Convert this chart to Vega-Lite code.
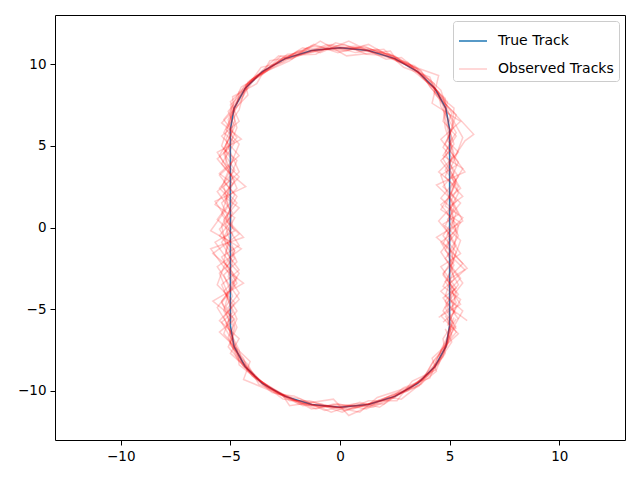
{
"$schema":"https://vega.github.io/schema/vega-lite/v6.json",
"width":570,"height":425,"autosize":"none",
"padding":{"left":55,"top":15,"right":15,"bottom":40},
"config":{"font":"DejaVu Sans","view":{"stroke":"black","strokeWidth":1},
"axis":{"grid":false,"domain":false,"tickColor":"black","labelColor":"black","labelFontSize":13.5,"tickSize":5,"labelPadding":4,"title":null}},
"data":{"values":[
{"s":"True Track","t":0,"i":0,"x":5,"y":-6},{"s":"True Track","t":0,"i":1,"x":5,"y":6},{"s":"True Track","t":0,"i":2,"x":4.83,"y":7.29},{"s":"True Track","t":0,"i":3,"x":4.33,"y":8.5},{"s":"True Track","t":0,"i":4,"x":3.54,"y":9.54},{"s":"True Track","t":0,"i":5,"x":2.5,"y":10.33},{"s":"True Track","t":0,"i":6,"x":1.29,"y":10.83},{"s":"True Track","t":0,"i":7,"x":0,"y":11},{"s":"True Track","t":0,"i":8,"x":-1.29,"y":10.83},{"s":"True Track","t":0,"i":9,"x":-2.5,"y":10.33},{"s":"True Track","t":0,"i":10,"x":-3.54,"y":9.54},{"s":"True Track","t":0,"i":11,"x":-4.33,"y":8.5},{"s":"True Track","t":0,"i":12,"x":-4.83,"y":7.29},{"s":"True Track","t":0,"i":13,"x":-5,"y":6},{"s":"True Track","t":0,"i":14,"x":-5,"y":-6},{"s":"True Track","t":0,"i":15,"x":-4.83,"y":-7.29},{"s":"True Track","t":0,"i":16,"x":-4.33,"y":-8.5},{"s":"True Track","t":0,"i":17,"x":-3.54,"y":-9.54},{"s":"True Track","t":0,"i":18,"x":-2.5,"y":-10.33},{"s":"True Track","t":0,"i":19,"x":-1.29,"y":-10.83},{"s":"True Track","t":0,"i":20,"x":0,"y":-11},{"s":"True Track","t":0,"i":21,"x":1.29,"y":-10.83},{"s":"True Track","t":0,"i":22,"x":2.5,"y":-10.33},{"s":"True Track","t":0,"i":23,"x":3.54,"y":-9.54},{"s":"True Track","t":0,"i":24,"x":4.33,"y":-8.5},{"s":"True Track","t":0,"i":25,"x":4.83,"y":-7.29},{"s":"True Track","t":0,"i":26,"x":5,"y":-6},
{"s":"Observed Tracks","t":1,"i":0,"x":5.3,"y":-6.2},{"s":"Observed Tracks","t":1,"i":1,"x":4.8,"y":-4.9},{"s":"Observed Tracks","t":1,"i":2,"x":5.4,"y":-4.1},{"s":"Observed Tracks","t":1,"i":3,"x":4.7,"y":-2.8},{"s":"Observed Tracks","t":1,"i":4,"x":5.2,"y":-2.1},{"s":"Observed Tracks","t":1,"i":5,"x":4.9,"y":-0.8},{"s":"Observed Tracks","t":1,"i":6,"x":5.5,"y":0.3},{"s":"Observed Tracks","t":1,"i":7,"x":4.6,"y":1.1},{"s":"Observed Tracks","t":1,"i":8,"x":5.1,"y":2.2},{"s":"Observed Tracks","t":1,"i":9,"x":5.3,"y":2.9},{"s":"Observed Tracks","t":1,"i":10,"x":4.7,"y":4.2},{"s":"Observed Tracks","t":1,"i":11,"x":5.2,"y":5.1},{"s":"Observed Tracks","t":1,"i":12,"x":4.9,"y":6.3},{"s":"Observed Tracks","t":1,"i":13,"x":5.1,"y":7.0},{"s":"Observed Tracks","t":1,"i":14,"x":4.2,"y":8.8},{"s":"Observed Tracks","t":1,"i":15,"x":3.8,"y":9.3},{"s":"Observed Tracks","t":1,"i":16,"x":2.3,"y":10.6},{"s":"Observed Tracks","t":1,"i":17,"x":1.5,"y":10.7},{"s":"Observed Tracks","t":1,"i":18,"x":-0.2,"y":11.3},{"s":"Observed Tracks","t":1,"i":19,"x":-1.1,"y":10.6},{"s":"Observed Tracks","t":1,"i":20,"x":-2.7,"y":10.5},{"s":"Observed Tracks","t":1,"i":21,"x":-3.3,"y":9.7},{"s":"Observed Tracks","t":1,"i":22,"x":-4.6,"y":8.3},{"s":"Observed Tracks","t":1,"i":23,"x":-4.7,"y":7.5},{"s":"Observed Tracks","t":1,"i":24,"x":-5.3,"y":5.8},{"s":"Observed Tracks","t":1,"i":25,"x":-4.8,"y":5.2},{"s":"Observed Tracks","t":1,"i":26,"x":-5.4,"y":3.9},{"s":"Observed Tracks","t":1,"i":27,"x":-4.9,"y":3.1},{"s":"Observed Tracks","t":1,"i":28,"x":-5.2,"y":1.8},{"s":"Observed Tracks","t":1,"i":29,"x":-4.6,"y":1.2},{"s":"Observed Tracks","t":1,"i":30,"x":-5.5,"y":-0.1},{"s":"Observed Tracks","t":1,"i":31,"x":-5.0,"y":-1.2},{"s":"Observed Tracks","t":1,"i":32,"x":-4.7,"y":-2.1},{"s":"Observed Tracks","t":1,"i":33,"x":-5.3,"y":-2.9},{"s":"Observed Tracks","t":1,"i":34,"x":-4.9,"y":-4.2},{"s":"Observed Tracks","t":1,"i":35,"x":-5.2,"y":-4.8},{"s":"Observed Tracks","t":1,"i":36,"x":-4.8,"y":-6.1},{"s":"Observed Tracks","t":1,"i":37,"x":-5.0,"y":-7.1},{"s":"Observed Tracks","t":1,"i":38,"x":-4.1,"y":-8.7},{"s":"Observed Tracks","t":1,"i":39,"x":-3.7,"y":-9.3},{"s":"Observed Tracks","t":1,"i":40,"x":-2.3,"y":-10.6},{"s":"Observed Tracks","t":1,"i":41,"x":-1.4,"y":-10.6},{"s":"Observed Tracks","t":1,"i":42,"x":0.2,"y":-11.2},{"s":"Observed Tracks","t":1,"i":43,"x":1.1,"y":-10.9},{"s":"Observed Tracks","t":1,"i":44,"x":2.7,"y":-10.1},{"s":"Observed Tracks","t":1,"i":45,"x":3.4,"y":-9.8},{"s":"Observed Tracks","t":1,"i":46,"x":4.5,"y":-8.3},{"s":"Observed Tracks","t":1,"i":47,"x":4.6,"y":-7.5},{"s":"Observed Tracks","t":1,"i":48,"x":5.2,"y":-5.9},
{"s":"Observed Tracks","t":2,"i":0,"x":4.7,"y":-5.8},{"s":"Observed Tracks","t":2,"i":1,"x":5.2,"y":-5.2},{"s":"Observed Tracks","t":2,"i":2,"x":5.0,"y":-3.8},{"s":"Observed Tracks","t":2,"i":3,"x":5.5,"y":-3.1},{"s":"Observed Tracks","t":2,"i":4,"x":4.8,"y":-1.9},{"s":"Observed Tracks","t":2,"i":5,"x":5.3,"y":-1.1},{"s":"Observed Tracks","t":2,"i":6,"x":4.7,"y":0.2},{"s":"Observed Tracks","t":2,"i":7,"x":5.4,"y":0.8},{"s":"Observed Tracks","t":2,"i":8,"x":4.9,"y":2.1},{"s":"Observed Tracks","t":2,"i":9,"x":4.6,"y":3.2},{"s":"Observed Tracks","t":2,"i":10,"x":5.3,"y":3.8},{"s":"Observed Tracks","t":2,"i":11,"x":5.0,"y":5.2},{"s":"Observed Tracks","t":2,"i":12,"x":5.3,"y":5.8},{"s":"Observed Tracks","t":2,"i":13,"x":4.6,"y":7.4},{"s":"Observed Tracks","t":2,"i":14,"x":4.5,"y":8.3},{"s":"Observed Tracks","t":2,"i":15,"x":3.3,"y":9.8},{"s":"Observed Tracks","t":2,"i":16,"x":2.7,"y":10.1},{"s":"Observed Tracks","t":2,"i":17,"x":1.1,"y":11.1},{"s":"Observed Tracks","t":2,"i":18,"x":0.3,"y":10.8},{"s":"Observed Tracks","t":2,"i":19,"x":-1.5,"y":11.0},{"s":"Observed Tracks","t":2,"i":20,"x":-2.3,"y":10.2},{"s":"Observed Tracks","t":2,"i":21,"x":-3.8,"y":9.3},{"s":"Observed Tracks","t":2,"i":22,"x":-4.1,"y":8.7},{"s":"Observed Tracks","t":2,"i":23,"x":-5.1,"y":7.1},{"s":"Observed Tracks","t":2,"i":24,"x":-4.8,"y":6.2},{"s":"Observed Tracks","t":2,"i":25,"x":-5.3,"y":4.8},{"s":"Observed Tracks","t":2,"i":26,"x":-4.7,"y":4.1},{"s":"Observed Tracks","t":2,"i":27,"x":-5.1,"y":2.8},{"s":"Observed Tracks","t":2,"i":28,"x":-5.6,"y":2.2},{"s":"Observed Tracks","t":2,"i":29,"x":-4.9,"y":0.9},{"s":"Observed Tracks","t":2,"i":30,"x":-5.2,"y":0.2},{"s":"Observed Tracks","t":2,"i":31,"x":-4.6,"y":-1.1},{"s":"Observed Tracks","t":2,"i":32,"x":-5.4,"y":-1.8},{"s":"Observed Tracks","t":2,"i":33,"x":-4.8,"y":-3.2},{"s":"Observed Tracks","t":2,"i":34,"x":-5.3,"y":-3.9},{"s":"Observed Tracks","t":2,"i":35,"x":-4.7,"y":-5.1},{"s":"Observed Tracks","t":2,"i":36,"x":-5.2,"y":-5.9},{"s":"Observed Tracks","t":2,"i":37,"x":-4.6,"y":-7.5},{"s":"Observed Tracks","t":2,"i":38,"x":-4.5,"y":-8.2},{"s":"Observed Tracks","t":2,"i":39,"x":-3.3,"y":-9.8},{"s":"Observed Tracks","t":2,"i":40,"x":-2.7,"y":-10.2},{"s":"Observed Tracks","t":2,"i":41,"x":-1.1,"y":-11.1},{"s":"Observed Tracks","t":2,"i":42,"x":-0.3,"y":-10.8},{"s":"Observed Tracks","t":2,"i":43,"x":1.5,"y":-11.0},{"s":"Observed Tracks","t":2,"i":44,"x":2.3,"y":-10.5},{"s":"Observed Tracks","t":2,"i":45,"x":3.8,"y":-9.2},{"s":"Observed Tracks","t":2,"i":46,"x":4.2,"y":-8.8},{"s":"Observed Tracks","t":2,"i":47,"x":5.1,"y":-7.0},{"s":"Observed Tracks","t":2,"i":48,"x":4.8,"y":-6.2},
{"s":"Observed Tracks","t":3,"i":0,"x":5.1,"y":-6.3},{"s":"Observed Tracks","t":3,"i":1,"x":5.6,"y":-5.1},{"s":"Observed Tracks","t":3,"i":2,"x":4.6,"y":-3.9},{"s":"Observed Tracks","t":3,"i":3,"x":5.2,"y":-3.2},{"s":"Observed Tracks","t":3,"i":4,"x":5.0,"y":-1.8},{"s":"Observed Tracks","t":3,"i":5,"x":4.6,"y":-0.9},{"s":"Observed Tracks","t":3,"i":6,"x":5.3,"y":-0.2},{"s":"Observed Tracks","t":3,"i":7,"x":5.0,"y":1.3},{"s":"Observed Tracks","t":3,"i":8,"x":5.6,"y":1.9},{"s":"Observed Tracks","t":3,"i":9,"x":4.8,"y":3.1},{"s":"Observed Tracks","t":3,"i":10,"x":5.1,"y":4.3},{"s":"Observed Tracks","t":3,"i":11,"x":4.7,"y":4.9},{"s":"Observed Tracks","t":3,"i":12,"x":5.2,"y":6.2},{"s":"Observed Tracks","t":3,"i":13,"x":4.9,"y":7.2},{"s":"Observed Tracks","t":3,"i":14,"x":4.6,"y":8.4},{"s":"Observed Tracks","t":3,"i":15,"x":3.4,"y":9.9},{"s":"Observed Tracks","t":3,"i":16,"x":2.6,"y":10.2},{"s":"Observed Tracks","t":3,"i":17,"x":1.3,"y":11.2},{"s":"Observed Tracks","t":3,"i":18,"x":-0.1,"y":10.7},{"s":"Observed Tracks","t":3,"i":19,"x":-1.2,"y":11.2},{"s":"Observed Tracks","t":3,"i":20,"x":-2.6,"y":10.1},{"s":"Observed Tracks","t":3,"i":21,"x":-3.6,"y":9.8},{"s":"Observed Tracks","t":3,"i":22,"x":-4.4,"y":8.3},{"s":"Observed Tracks","t":3,"i":23,"x":-5.0,"y":7.5},{"s":"Observed Tracks","t":3,"i":24,"x":-4.7,"y":6.1},{"s":"Observed Tracks","t":3,"i":25,"x":-5.1,"y":4.8},{"s":"Observed Tracks","t":3,"i":26,"x":-5.6,"y":4.2},{"s":"Observed Tracks","t":3,"i":27,"x":-4.8,"y":2.9},{"s":"Observed Tracks","t":3,"i":28,"x":-5.1,"y":2.1},{"s":"Observed Tracks","t":3,"i":29,"x":-5.4,"y":0.8},{"s":"Observed Tracks","t":3,"i":30,"x":-4.8,"y":-0.2},{"s":"Observed Tracks","t":3,"i":31,"x":-5.7,"y":-0.9},{"s":"Observed Tracks","t":3,"i":32,"x":-5.0,"y":-2.2},{"s":"Observed Tracks","t":3,"i":33,"x":-4.6,"y":-2.8},{"s":"Observed Tracks","t":3,"i":34,"x":-5.2,"y":-4.1},{"s":"Observed Tracks","t":3,"i":35,"x":-4.9,"y":-5.2},{"s":"Observed Tracks","t":3,"i":36,"x":-5.4,"y":-5.8},{"s":"Observed Tracks","t":3,"i":37,"x":-4.7,"y":-7.4},{"s":"Observed Tracks","t":3,"i":38,"x":-4.6,"y":-8.4},{"s":"Observed Tracks","t":3,"i":39,"x":-3.4,"y":-9.7},{"s":"Observed Tracks","t":3,"i":40,"x":-2.6,"y":-10.5},{"s":"Observed Tracks","t":3,"i":41,"x":-1.2,"y":-10.7},{"s":"Observed Tracks","t":3,"i":42,"x":0.1,"y":-11.3},{"s":"Observed Tracks","t":3,"i":43,"x":1.3,"y":-10.6},{"s":"Observed Tracks","t":3,"i":44,"x":2.6,"y":-10.6},{"s":"Observed Tracks","t":3,"i":45,"x":3.3,"y":-9.4},{"s":"Observed Tracks","t":3,"i":46,"x":4.4,"y":-8.7},{"s":"Observed Tracks","t":3,"i":47,"x":4.9,"y":-7.1},{"s":"Observed Tracks","t":3,"i":48,"x":5.0,"y":-6.1},
{"s":"Observed Tracks","t":4,"i":0,"x":4.9,"y":-6.0},{"s":"Observed Tracks","t":4,"i":1,"x":5.3,"y":-4.8},{"s":"Observed Tracks","t":4,"i":2,"x":4.8,"y":-4.2},{"s":"Observed Tracks","t":4,"i":3,"x":5.1,"y":-2.9},{"s":"Observed Tracks","t":4,"i":4,"x":5.6,"y":-2.2},{"s":"Observed Tracks","t":4,"i":5,"x":4.7,"y":-1.0},{"s":"Observed Tracks","t":4,"i":6,"x":5.1,"y":0.1},{"s":"Observed Tracks","t":4,"i":7,"x":5.3,"y":0.9},{"s":"Observed Tracks","t":4,"i":8,"x":4.6,"y":1.8},{"s":"Observed Tracks","t":4,"i":9,"x":5.4,"y":3.1},{"s":"Observed Tracks","t":4,"i":10,"x":5.0,"y":3.9},{"s":"Observed Tracks","t":4,"i":11,"x":5.7,"y":5.3},{"s":"Observed Tracks","t":4,"i":12,"x":6.1,"y":5.7},{"s":"Observed Tracks","t":4,"i":13,"x":5.0,"y":7.3},{"s":"Observed Tracks","t":4,"i":14,"x":4.1,"y":8.6},{"s":"Observed Tracks","t":4,"i":15,"x":3.7,"y":9.6},{"s":"Observed Tracks","t":4,"i":16,"x":2.4,"y":10.5},{"s":"Observed Tracks","t":4,"i":17,"x":1.2,"y":10.6},{"s":"Observed Tracks","t":4,"i":18,"x":0.2,"y":11.2},{"s":"Observed Tracks","t":4,"i":19,"x":-1.4,"y":10.7},{"s":"Observed Tracks","t":4,"i":20,"x":-2.4,"y":10.6},{"s":"Observed Tracks","t":4,"i":21,"x":-3.5,"y":9.4},{"s":"Observed Tracks","t":4,"i":22,"x":-4.3,"y":8.7},{"s":"Observed Tracks","t":4,"i":23,"x":-4.6,"y":7.2},{"s":"Observed Tracks","t":4,"i":24,"x":-5.2,"y":6.0},{"s":"Observed Tracks","t":4,"i":25,"x":-4.6,"y":5.1},{"s":"Observed Tracks","t":4,"i":26,"x":-5.0,"y":3.8},{"s":"Observed Tracks","t":4,"i":27,"x":-5.5,"y":3.2},{"s":"Observed Tracks","t":4,"i":28,"x":-4.8,"y":2.0},{"s":"Observed Tracks","t":4,"i":29,"x":-5.2,"y":1.1},{"s":"Observed Tracks","t":4,"i":30,"x":-5.9,"y":-0.2},{"s":"Observed Tracks","t":4,"i":31,"x":-5.1,"y":-0.8},{"s":"Observed Tracks","t":4,"i":32,"x":-5.3,"y":-2.1},{"s":"Observed Tracks","t":4,"i":33,"x":-4.7,"y":-3.1},{"s":"Observed Tracks","t":4,"i":34,"x":-5.0,"y":-3.8},{"s":"Observed Tracks","t":4,"i":35,"x":-5.6,"y":-4.9},{"s":"Observed Tracks","t":4,"i":36,"x":-5.0,"y":-6.2},{"s":"Observed Tracks","t":4,"i":37,"x":-5.0,"y":-7.2},{"s":"Observed Tracks","t":4,"i":38,"x":-4.2,"y":-8.4},{"s":"Observed Tracks","t":4,"i":39,"x":-3.7,"y":-9.6},{"s":"Observed Tracks","t":4,"i":40,"x":-2.4,"y":-10.3},{"s":"Observed Tracks","t":4,"i":41,"x":-1.3,"y":-11.1},{"s":"Observed Tracks","t":4,"i":42,"x":-0.1,"y":-10.8},{"s":"Observed Tracks","t":4,"i":43,"x":1.2,"y":-11.1},{"s":"Observed Tracks","t":4,"i":44,"x":2.5,"y":-10.3},{"s":"Observed Tracks","t":4,"i":45,"x":3.6,"y":-9.7},{"s":"Observed Tracks","t":4,"i":46,"x":4.2,"y":-8.3},{"s":"Observed Tracks","t":4,"i":47,"x":4.8,"y":-7.4},{"s":"Observed Tracks","t":4,"i":48,"x":5.2,"y":-6.1},
{"s":"Observed Tracks","t":5,"i":0,"x":5.2,"y":-5.9},{"s":"Observed Tracks","t":5,"i":1,"x":4.7,"y":-5.1},{"s":"Observed Tracks","t":5,"i":2,"x":5.2,"y":-3.8},{"s":"Observed Tracks","t":5,"i":3,"x":4.9,"y":-3.2},{"s":"Observed Tracks","t":5,"i":4,"x":5.2,"y":-1.9},{"s":"Observed Tracks","t":5,"i":5,"x":5.5,"y":-0.8},{"s":"Observed Tracks","t":5,"i":6,"x":4.8,"y":0.1},{"s":"Observed Tracks","t":5,"i":7,"x":5.2,"y":1.2},{"s":"Observed Tracks","t":5,"i":8,"x":5.0,"y":1.8},{"s":"Observed Tracks","t":5,"i":9,"x":5.3,"y":2.8},{"s":"Observed Tracks","t":5,"i":10,"x":4.6,"y":4.1},{"s":"Observed Tracks","t":5,"i":11,"x":5.1,"y":4.8},{"s":"Observed Tracks","t":5,"i":12,"x":4.8,"y":6.1},{"s":"Observed Tracks","t":5,"i":13,"x":4.7,"y":7.5},{"s":"Observed Tracks","t":5,"i":14,"x":4.4,"y":8.4},{"s":"Observed Tracks","t":5,"i":15,"x":3.6,"y":9.3},{"s":"Observed Tracks","t":5,"i":16,"x":2.5,"y":10.5},{"s":"Observed Tracks","t":5,"i":17,"x":1.4,"y":10.9},{"s":"Observed Tracks","t":5,"i":18,"x":0.0,"y":10.9},{"s":"Observed Tracks","t":5,"i":19,"x":-1.3,"y":11.1},{"s":"Observed Tracks","t":5,"i":20,"x":-2.5,"y":10.4},{"s":"Observed Tracks","t":5,"i":21,"x":-3.5,"y":9.6},{"s":"Observed Tracks","t":5,"i":22,"x":-4.4,"y":8.6},{"s":"Observed Tracks","t":5,"i":23,"x":-4.9,"y":7.1},{"s":"Observed Tracks","t":5,"i":24,"x":-5.1,"y":6.2},{"s":"Observed Tracks","t":5,"i":25,"x":-5.4,"y":5.0},{"s":"Observed Tracks","t":5,"i":26,"x":-4.9,"y":4.1},{"s":"Observed Tracks","t":5,"i":27,"x":-5.3,"y":2.8},{"s":"Observed Tracks","t":5,"i":28,"x":-4.7,"y":1.9},{"s":"Observed Tracks","t":5,"i":29,"x":-5.1,"y":0.9},{"s":"Observed Tracks","t":5,"i":30,"x":-5.4,"y":0.1},{"s":"Observed Tracks","t":5,"i":31,"x":-5.2,"y":-1.1},{"s":"Observed Tracks","t":5,"i":32,"x":-4.8,"y":-1.9},{"s":"Observed Tracks","t":5,"i":33,"x":-5.5,"y":-2.8},{"s":"Observed Tracks","t":5,"i":34,"x":-5.1,"y":-4.1},{"s":"Observed Tracks","t":5,"i":35,"x":-5.3,"y":-5.1},{"s":"Observed Tracks","t":5,"i":36,"x":-4.9,"y":-6.0},{"s":"Observed Tracks","t":5,"i":37,"x":-4.9,"y":-7.3},{"s":"Observed Tracks","t":5,"i":38,"x":-4.4,"y":-8.5},{"s":"Observed Tracks","t":5,"i":39,"x":-3.5,"y":-9.6},{"s":"Observed Tracks","t":5,"i":40,"x":-2.5,"y":-10.4},{"s":"Observed Tracks","t":5,"i":41,"x":-1.3,"y":-10.9},{"s":"Observed Tracks","t":5,"i":42,"x":0.0,"y":-11.0},{"s":"Observed Tracks","t":5,"i":43,"x":1.3,"y":-10.8},{"s":"Observed Tracks","t":5,"i":44,"x":2.5,"y":-10.4},{"s":"Observed Tracks","t":5,"i":45,"x":3.5,"y":-9.5},{"s":"Observed Tracks","t":5,"i":46,"x":4.3,"y":-8.6},{"s":"Observed Tracks","t":5,"i":47,"x":4.9,"y":-7.2},{"s":"Observed Tracks","t":5,"i":48,"x":5.0,"y":-5.9},
{"s":"Observed Tracks","t":6,"i":0,"x":5.8,"y":-5.7},{"s":"Observed Tracks","t":6,"i":1,"x":5.1,"y":-5.0},{"s":"Observed Tracks","t":6,"i":2,"x":5.3,"y":-4.0},{"s":"Observed Tracks","t":6,"i":3,"x":4.7,"y":-2.9},{"s":"Observed Tracks","t":6,"i":4,"x":5.1,"y":-2.0},{"s":"Observed Tracks","t":6,"i":5,"x":5.2,"y":-1.2},{"s":"Observed Tracks","t":6,"i":6,"x":5.4,"y":0.1},{"s":"Observed Tracks","t":6,"i":7,"x":4.9,"y":0.8},{"s":"Observed Tracks","t":6,"i":8,"x":5.4,"y":2.1},{"s":"Observed Tracks","t":6,"i":9,"x":5.1,"y":3.1},{"s":"Observed Tracks","t":6,"i":10,"x":5.4,"y":4.0},{"s":"Observed Tracks","t":6,"i":11,"x":4.8,"y":5.1},{"s":"Observed Tracks","t":6,"i":12,"x":5.1,"y":6.0},{"s":"Observed Tracks","t":6,"i":13,"x":5.2,"y":7.3},{"s":"Observed Tracks","t":6,"i":14,"x":4.3,"y":8.3},{"s":"Observed Tracks","t":6,"i":15,"x":3.5,"y":9.7},{"s":"Observed Tracks","t":6,"i":16,"x":2.6,"y":10.4},{"s":"Observed Tracks","t":6,"i":17,"x":1.2,"y":11.0},{"s":"Observed Tracks","t":6,"i":18,"x":-0.3,"y":11.0},{"s":"Observed Tracks","t":6,"i":19,"x":-1.3,"y":10.7},{"s":"Observed Tracks","t":6,"i":20,"x":-2.6,"y":10.4},{"s":"Observed Tracks","t":6,"i":21,"x":-3.4,"y":9.5},{"s":"Observed Tracks","t":6,"i":22,"x":-4.5,"y":8.6},{"s":"Observed Tracks","t":6,"i":23,"x":-5.0,"y":7.2},{"s":"Observed Tracks","t":6,"i":24,"x":-4.9,"y":5.9},{"s":"Observed Tracks","t":6,"i":25,"x":-5.2,"y":5.1},{"s":"Observed Tracks","t":6,"i":26,"x":-5.2,"y":3.9},{"s":"Observed Tracks","t":6,"i":27,"x":-4.6,"y":3.1},{"s":"Observed Tracks","t":6,"i":28,"x":-5.3,"y":2.0},{"s":"Observed Tracks","t":6,"i":29,"x":-5.0,"y":1.0},{"s":"Observed Tracks","t":6,"i":30,"x":-4.9,"y":0.0},{"s":"Observed Tracks","t":6,"i":31,"x":-5.4,"y":-0.9},{"s":"Observed Tracks","t":6,"i":32,"x":-4.9,"y":-2.1},{"s":"Observed Tracks","t":6,"i":33,"x":-5.1,"y":-3.0},{"s":"Observed Tracks","t":6,"i":34,"x":-4.6,"y":-4.0},{"s":"Observed Tracks","t":6,"i":35,"x":-5.1,"y":-4.9},{"s":"Observed Tracks","t":6,"i":36,"x":-4.7,"y":-6.1},{"s":"Observed Tracks","t":6,"i":37,"x":-5.1,"y":-7.3},{"s":"Observed Tracks","t":6,"i":38,"x":-4.3,"y":-8.6},{"s":"Observed Tracks","t":6,"i":39,"x":-3.6,"y":-9.4},{"s":"Observed Tracks","t":6,"i":40,"x":-2.4,"y":-10.4},{"s":"Observed Tracks","t":6,"i":41,"x":-1.2,"y":-10.9},{"s":"Observed Tracks","t":6,"i":42,"x":0.2,"y":-10.9},{"s":"Observed Tracks","t":6,"i":43,"x":1.4,"y":-10.9},{"s":"Observed Tracks","t":6,"i":44,"x":2.4,"y":-10.2},{"s":"Observed Tracks","t":6,"i":45,"x":3.7,"y":-9.6},{"s":"Observed Tracks","t":6,"i":46,"x":4.3,"y":-8.4},{"s":"Observed Tracks","t":6,"i":47,"x":4.7,"y":-7.3},{"s":"Observed Tracks","t":6,"i":48,"x":5.3,"y":-6.0},
{"s":"Observed Tracks","t":7,"i":0,"x":5.4,"y":-5.6},{"s":"Observed Tracks","t":7,"i":1,"x":4.7,"y":-4.3},{"s":"Observed Tracks","t":7,"i":2,"x":5.3,"y":-3.7},{"s":"Observed Tracks","t":7,"i":3,"x":4.6,"y":-2.4},{"s":"Observed Tracks","t":7,"i":4,"x":5.5,"y":-1.6},{"s":"Observed Tracks","t":7,"i":5,"x":4.9,"y":-0.4},{"s":"Observed Tracks","t":7,"i":6,"x":5.6,"y":0.6},{"s":"Observed Tracks","t":7,"i":7,"x":4.8,"y":1.3},{"s":"Observed Tracks","t":7,"i":8,"x":5.2,"y":2.6},{"s":"Observed Tracks","t":7,"i":9,"x":4.5,"y":3.4},{"s":"Observed Tracks","t":7,"i":10,"x":5.4,"y":4.6},{"s":"Observed Tracks","t":7,"i":11,"x":4.9,"y":5.3},{"s":"Observed Tracks","t":7,"i":12,"x":5.3,"y":6.9},{"s":"Observed Tracks","t":7,"i":13,"x":4.3,"y":8.2},{"s":"Observed Tracks","t":7,"i":14,"x":4.3,"y":8.8},{"s":"Observed Tracks","t":7,"i":15,"x":2.8,"y":10.4},{"s":"Observed Tracks","t":7,"i":16,"x":2.1,"y":10.3},{"s":"Observed Tracks","t":7,"i":17,"x":0.4,"y":11.4},{"s":"Observed Tracks","t":7,"i":18,"x":-0.9,"y":10.7},{"s":"Observed Tracks","t":7,"i":19,"x":-1.7,"y":11.0},{"s":"Observed Tracks","t":7,"i":20,"x":-3.3,"y":9.7},{"s":"Observed Tracks","t":7,"i":21,"x":-3.7,"y":9.3},{"s":"Observed Tracks","t":7,"i":22,"x":-5.0,"y":7.7},{"s":"Observed Tracks","t":7,"i":23,"x":-4.6,"y":6.5},{"s":"Observed Tracks","t":7,"i":24,"x":-5.4,"y":5.6},{"s":"Observed Tracks","t":7,"i":25,"x":-4.6,"y":4.4},{"s":"Observed Tracks","t":7,"i":26,"x":-5.5,"y":3.3},{"s":"Observed Tracks","t":7,"i":27,"x":-4.9,"y":2.7},{"s":"Observed Tracks","t":7,"i":28,"x":-5.7,"y":1.4},{"s":"Observed Tracks","t":7,"i":29,"x":-4.8,"y":0.6},{"s":"Observed Tracks","t":7,"i":30,"x":-5.3,"y":-0.6},{"s":"Observed Tracks","t":7,"i":31,"x":-4.5,"y":-1.3},{"s":"Observed Tracks","t":7,"i":32,"x":-5.6,"y":-2.4},{"s":"Observed Tracks","t":7,"i":33,"x":-5.0,"y":-3.6},{"s":"Observed Tracks","t":7,"i":34,"x":-4.6,"y":-4.4},{"s":"Observed Tracks","t":7,"i":35,"x":-5.5,"y":-5.7},{"s":"Observed Tracks","t":7,"i":36,"x":-4.6,"y":-6.8},{"s":"Observed Tracks","t":7,"i":37,"x":-5.0,"y":-7.7},{"s":"Observed Tracks","t":7,"i":38,"x":-3.7,"y":-9.3},{"s":"Observed Tracks","t":7,"i":39,"x":-3.3,"y":-9.7},{"s":"Observed Tracks","t":7,"i":40,"x":-1.7,"y":-10.9},{"s":"Observed Tracks","t":7,"i":41,"x":-0.9,"y":-10.8},{"s":"Observed Tracks","t":7,"i":42,"x":0.9,"y":-11.3},{"s":"Observed Tracks","t":7,"i":43,"x":1.7,"y":-10.4},{"s":"Observed Tracks","t":7,"i":44,"x":3.3,"y":-9.7},{"s":"Observed Tracks","t":7,"i":45,"x":3.8,"y":-9.3},{"s":"Observed Tracks","t":7,"i":46,"x":4.3,"y":-8.1},{"s":"Observed Tracks","t":7,"i":47,"x":5.3,"y":-6.4},{"s":"Observed Tracks","t":7,"i":48,"x":4.8,"y":-5.4},
{"s":"Observed Tracks","t":8,"i":0,"x":4.6,"y":-5.4},{"s":"Observed Tracks","t":8,"i":1,"x":5.3,"y":-4.6},{"s":"Observed Tracks","t":8,"i":2,"x":5.0,"y":-3.4},{"s":"Observed Tracks","t":8,"i":3,"x":5.7,"y":-2.6},{"s":"Observed Tracks","t":8,"i":4,"x":4.8,"y":-1.4},{"s":"Observed Tracks","t":8,"i":5,"x":5.1,"y":-0.6},{"s":"Observed Tracks","t":8,"i":6,"x":4.5,"y":0.4},{"s":"Observed Tracks","t":8,"i":7,"x":5.3,"y":1.6},{"s":"Observed Tracks","t":8,"i":8,"x":5.0,"y":2.3},{"s":"Observed Tracks","t":8,"i":9,"x":5.6,"y":3.6},{"s":"Observed Tracks","t":8,"i":10,"x":4.7,"y":4.4},{"s":"Observed Tracks","t":8,"i":11,"x":5.3,"y":5.6},{"s":"Observed Tracks","t":8,"i":12,"x":4.7,"y":6.5},{"s":"Observed Tracks","t":8,"i":13,"x":4.9,"y":7.7},{"s":"Observed Tracks","t":8,"i":14,"x":3.7,"y":9.3},{"s":"Observed Tracks","t":8,"i":15,"x":3.3,"y":9.8},{"s":"Observed Tracks","t":8,"i":16,"x":1.7,"y":10.9},{"s":"Observed Tracks","t":8,"i":17,"x":0.9,"y":10.8},{"s":"Observed Tracks","t":8,"i":18,"x":-0.4,"y":11.2},{"s":"Observed Tracks","t":8,"i":19,"x":-2.1,"y":10.4},{"s":"Observed Tracks","t":8,"i":20,"x":-2.8,"y":10.2},{"s":"Observed Tracks","t":8,"i":21,"x":-4.2,"y":8.9},{"s":"Observed Tracks","t":8,"i":22,"x":-4.4,"y":8.1},{"s":"Observed Tracks","t":8,"i":23,"x":-5.3,"y":6.6},{"s":"Observed Tracks","t":8,"i":24,"x":-4.7,"y":5.5},{"s":"Observed Tracks","t":8,"i":25,"x":-5.3,"y":4.6},{"s":"Observed Tracks","t":8,"i":26,"x":-4.8,"y":3.5},{"s":"Observed Tracks","t":8,"i":27,"x":-5.5,"y":2.4},{"s":"Observed Tracks","t":8,"i":28,"x":-4.9,"y":1.6},{"s":"Observed Tracks","t":8,"i":29,"x":-5.2,"y":0.4},{"s":"Observed Tracks","t":8,"i":30,"x":-4.6,"y":-0.4},{"s":"Observed Tracks","t":8,"i":31,"x":-5.8,"y":-1.6},{"s":"Observed Tracks","t":8,"i":32,"x":-5.0,"y":-2.5},{"s":"Observed Tracks","t":8,"i":33,"x":-4.7,"y":-3.4},{"s":"Observed Tracks","t":8,"i":34,"x":-5.4,"y":-4.6},{"s":"Observed Tracks","t":8,"i":35,"x":-5.0,"y":-5.4},{"s":"Observed Tracks","t":8,"i":36,"x":-5.3,"y":-6.5},{"s":"Observed Tracks","t":8,"i":37,"x":-4.4,"y":-8.0},{"s":"Observed Tracks","t":8,"i":38,"x":-4.2,"y":-8.8},{"s":"Observed Tracks","t":8,"i":39,"x":-2.8,"y":-10.2},{"s":"Observed Tracks","t":8,"i":40,"x":-2.1,"y":-10.3},{"s":"Observed Tracks","t":8,"i":41,"x":-0.4,"y":-11.3},{"s":"Observed Tracks","t":8,"i":42,"x":0.9,"y":-10.7},{"s":"Observed Tracks","t":8,"i":43,"x":1.8,"y":-11.0},{"s":"Observed Tracks","t":8,"i":44,"x":2.8,"y":-10.1},{"s":"Observed Tracks","t":8,"i":45,"x":4.2,"y":-8.9},{"s":"Observed Tracks","t":8,"i":46,"x":4.8,"y":-7.7},{"s":"Observed Tracks","t":8,"i":47,"x":4.7,"y":-6.8},{"s":"Observed Tracks","t":8,"i":48,"x":5.3,"y":-5.6},
{"s":"Observed Tracks","t":9,"i":0,"x":5.0,"y":-5.7},{"s":"Observed Tracks","t":9,"i":1,"x":5.5,"y":-4.4},{"s":"Observed Tracks","t":9,"i":2,"x":4.7,"y":-3.6},{"s":"Observed Tracks","t":9,"i":3,"x":5.2,"y":-2.3},{"s":"Observed Tracks","t":9,"i":4,"x":4.9,"y":-1.7},{"s":"Observed Tracks","t":9,"i":5,"x":5.4,"y":-0.5},{"s":"Observed Tracks","t":9,"i":6,"x":5.0,"y":0.7},{"s":"Observed Tracks","t":9,"i":7,"x":4.6,"y":1.4},{"s":"Observed Tracks","t":9,"i":8,"x":5.5,"y":2.4},{"s":"Observed Tracks","t":9,"i":9,"x":5.0,"y":3.5},{"s":"Observed Tracks","t":9,"i":10,"x":5.3,"y":4.4},{"s":"Observed Tracks","t":9,"i":11,"x":5.6,"y":5.5},{"s":"Observed Tracks","t":9,"i":12,"x":5.1,"y":6.7},{"s":"Observed Tracks","t":9,"i":13,"x":4.4,"y":8.1},{"s":"Observed Tracks","t":9,"i":14,"x":4.1,"y":9.2},{"s":"Observed Tracks","t":9,"i":15,"x":2.9,"y":9.8},{"s":"Observed Tracks","t":9,"i":16,"x":2.0,"y":10.9},{"s":"Observed Tracks","t":9,"i":17,"x":0.7,"y":10.7},{"s":"Observed Tracks","t":9,"i":18,"x":-0.6,"y":11.2},{"s":"Observed Tracks","t":9,"i":19,"x":-1.9,"y":10.5},{"s":"Observed Tracks","t":9,"i":20,"x":-3.2,"y":10.2},{"s":"Observed Tracks","t":9,"i":21,"x":-3.8,"y":8.8},{"s":"Observed Tracks","t":9,"i":22,"x":-4.9,"y":8.0},{"s":"Observed Tracks","t":9,"i":23,"x":-4.8,"y":6.5},{"s":"Observed Tracks","t":9,"i":24,"x":-5.2,"y":5.4},{"s":"Observed Tracks","t":9,"i":25,"x":-5.0,"y":4.6},{"s":"Observed Tracks","t":9,"i":26,"x":-4.6,"y":3.4},{"s":"Observed Tracks","t":9,"i":27,"x":-5.3,"y":2.5},{"s":"Observed Tracks","t":9,"i":28,"x":-5.1,"y":1.4},{"s":"Observed Tracks","t":9,"i":29,"x":-5.6,"y":0.5},{"s":"Observed Tracks","t":9,"i":30,"x":-4.9,"y":-0.4},{"s":"Observed Tracks","t":9,"i":31,"x":-5.2,"y":-1.5},{"s":"Observed Tracks","t":9,"i":32,"x":-4.6,"y":-2.6},{"s":"Observed Tracks","t":9,"i":33,"x":-5.4,"y":-3.5},{"s":"Observed Tracks","t":9,"i":34,"x":-5.1,"y":-4.4},{"s":"Observed Tracks","t":9,"i":35,"x":-4.7,"y":-5.6},{"s":"Observed Tracks","t":9,"i":36,"x":-5.1,"y":-6.7},{"s":"Observed Tracks","t":9,"i":37,"x":-4.7,"y":-8.0},{"s":"Observed Tracks","t":9,"i":38,"x":-3.9,"y":-9.2},{"s":"Observed Tracks","t":9,"i":39,"x":-3.1,"y":-10.1},{"s":"Observed Tracks","t":9,"i":40,"x":-1.8,"y":-10.5},{"s":"Observed Tracks","t":9,"i":41,"x":-0.7,"y":-11.2},{"s":"Observed Tracks","t":9,"i":42,"x":0.6,"y":-10.8},{"s":"Observed Tracks","t":9,"i":43,"x":2.0,"y":-10.8},{"s":"Observed Tracks","t":9,"i":44,"x":2.9,"y":-9.8},{"s":"Observed Tracks","t":9,"i":45,"x":4.1,"y":-9.2},{"s":"Observed Tracks","t":9,"i":46,"x":4.5,"y":-7.8},{"s":"Observed Tracks","t":9,"i":47,"x":5.1,"y":-6.6},{"s":"Observed Tracks","t":9,"i":48,"x":4.9,"y":-5.6},
{"s":"Observed Tracks","t":10,"i":0,"x":5.3,"y":-5.3},{"s":"Observed Tracks","t":10,"i":1,"x":4.9,"y":-4.6},{"s":"Observed Tracks","t":10,"i":2,"x":5.6,"y":-3.4},{"s":"Observed Tracks","t":10,"i":3,"x":5.1,"y":-2.5},{"s":"Observed Tracks","t":10,"i":4,"x":4.6,"y":-1.5},{"s":"Observed Tracks","t":10,"i":5,"x":5.3,"y":-0.3},{"s":"Observed Tracks","t":10,"i":6,"x":4.9,"y":0.5},{"s":"Observed Tracks","t":10,"i":7,"x":5.5,"y":1.5},{"s":"Observed Tracks","t":10,"i":8,"x":4.7,"y":2.5},{"s":"Observed Tracks","t":10,"i":9,"x":5.2,"y":3.3},{"s":"Observed Tracks","t":10,"i":10,"x":4.8,"y":4.6},{"s":"Observed Tracks","t":10,"i":11,"x":5.1,"y":5.4},{"s":"Observed Tracks","t":10,"i":12,"x":4.9,"y":6.6},{"s":"Observed Tracks","t":10,"i":13,"x":4.7,"y":7.9},{"s":"Observed Tracks","t":10,"i":14,"x":4.0,"y":9.1},{"s":"Observed Tracks","t":10,"i":15,"x":3.1,"y":9.9},{"s":"Observed Tracks","t":10,"i":16,"x":1.8,"y":10.7},{"s":"Observed Tracks","t":10,"i":17,"x":0.6,"y":11.0},{"s":"Observed Tracks","t":10,"i":18,"x":-0.7,"y":10.9},{"s":"Observed Tracks","t":10,"i":19,"x":-1.9,"y":10.8},{"s":"Observed Tracks","t":10,"i":20,"x":-3.0,"y":9.9},{"s":"Observed Tracks","t":10,"i":21,"x":-4.0,"y":9.1},{"s":"Observed Tracks","t":10,"i":22,"x":-4.5,"y":7.8},{"s":"Observed Tracks","t":10,"i":23,"x":-5.0,"y":6.7},{"s":"Observed Tracks","t":10,"i":24,"x":-5.0,"y":5.5},{"s":"Observed Tracks","t":10,"i":25,"x":-5.5,"y":4.4},{"s":"Observed Tracks","t":10,"i":26,"x":-5.1,"y":3.6},{"s":"Observed Tracks","t":10,"i":27,"x":-4.7,"y":2.4},{"s":"Observed Tracks","t":10,"i":28,"x":-5.4,"y":1.5},{"s":"Observed Tracks","t":10,"i":29,"x":-5.0,"y":0.3},{"s":"Observed Tracks","t":10,"i":30,"x":-5.5,"y":-0.5},{"s":"Observed Tracks","t":10,"i":31,"x":-4.8,"y":-1.4},{"s":"Observed Tracks","t":10,"i":32,"x":-5.3,"y":-2.4},{"s":"Observed Tracks","t":10,"i":33,"x":-5.6,"y":-3.5},{"s":"Observed Tracks","t":10,"i":34,"x":-4.8,"y":-4.6},{"s":"Observed Tracks","t":10,"i":35,"x":-5.3,"y":-5.5},{"s":"Observed Tracks","t":10,"i":36,"x":-4.9,"y":-6.7},{"s":"Observed Tracks","t":10,"i":37,"x":-4.6,"y":-7.9},{"s":"Observed Tracks","t":10,"i":38,"x":-4.0,"y":-9.1},{"s":"Observed Tracks","t":10,"i":39,"x":-3.0,"y":-9.9},{"s":"Observed Tracks","t":10,"i":40,"x":-1.9,"y":-10.7},{"s":"Observed Tracks","t":10,"i":41,"x":-0.6,"y":-11.0},{"s":"Observed Tracks","t":10,"i":42,"x":0.7,"y":-11.0},{"s":"Observed Tracks","t":10,"i":43,"x":1.9,"y":-10.6},{"s":"Observed Tracks","t":10,"i":44,"x":3.1,"y":-10.0},{"s":"Observed Tracks","t":10,"i":45,"x":3.9,"y":-9.0},{"s":"Observed Tracks","t":10,"i":46,"x":4.7,"y":-7.9},{"s":"Observed Tracks","t":10,"i":47,"x":4.9,"y":-6.7},{"s":"Observed Tracks","t":10,"i":48,"x":5.2,"y":-5.5},
{"s":"Observed Tracks","t":11,"i":0,"x":4.5,"y":-5.5},{"s":"Observed Tracks","t":11,"i":1,"x":5.5,"y":-4.7},{"s":"Observed Tracks","t":11,"i":2,"x":4.8,"y":-3.3},{"s":"Observed Tracks","t":11,"i":3,"x":5.8,"y":-2.5},{"s":"Observed Tracks","t":11,"i":4,"x":5.0,"y":-1.3},{"s":"Observed Tracks","t":11,"i":5,"x":4.4,"y":-0.6},{"s":"Observed Tracks","t":11,"i":6,"x":5.6,"y":0.4},{"s":"Observed Tracks","t":11,"i":7,"x":5.1,"y":1.7},{"s":"Observed Tracks","t":11,"i":8,"x":4.4,"y":2.6},{"s":"Observed Tracks","t":11,"i":9,"x":5.7,"y":3.4},{"s":"Observed Tracks","t":11,"i":10,"x":5.0,"y":4.7},{"s":"Observed Tracks","t":11,"i":11,"x":4.6,"y":5.4},{"s":"Observed Tracks","t":11,"i":12,"x":5.5,"y":6.5},{"s":"Observed Tracks","t":11,"i":13,"x":4.2,"y":7.6},{"s":"Observed Tracks","t":11,"i":14,"x":4.5,"y":9.3},{"s":"Observed Tracks","t":11,"i":15,"x":2.6,"y":10.2},{"s":"Observed Tracks","t":11,"i":16,"x":2.3,"y":10.8},{"s":"Observed Tracks","t":11,"i":17,"x":0.3,"y":10.5},{"s":"Observed Tracks","t":11,"i":18,"x":-0.9,"y":11.4},{"s":"Observed Tracks","t":11,"i":19,"x":-2.2,"y":10.3},{"s":"Observed Tracks","t":11,"i":20,"x":-2.8,"y":10.5},{"s":"Observed Tracks","t":11,"i":21,"x":-4.3,"y":8.7},{"s":"Observed Tracks","t":11,"i":22,"x":-4.2,"y":8.1},{"s":"Observed Tracks","t":11,"i":23,"x":-5.4,"y":6.4},{"s":"Observed Tracks","t":11,"i":24,"x":-4.5,"y":5.4},{"s":"Observed Tracks","t":11,"i":25,"x":-5.6,"y":4.6},{"s":"Observed Tracks","t":11,"i":26,"x":-5.0,"y":3.3},{"s":"Observed Tracks","t":11,"i":27,"x":-4.3,"y":2.5},{"s":"Observed Tracks","t":11,"i":28,"x":-5.7,"y":1.6},{"s":"Observed Tracks","t":11,"i":29,"x":-5.1,"y":0.4},{"s":"Observed Tracks","t":11,"i":30,"x":-4.4,"y":-0.6},{"s":"Observed Tracks","t":11,"i":31,"x":-5.9,"y":-1.3},{"s":"Observed Tracks","t":11,"i":32,"x":-5.2,"y":-2.6},{"s":"Observed Tracks","t":11,"i":33,"x":-4.4,"y":-3.4},{"s":"Observed Tracks","t":11,"i":34,"x":-5.8,"y":-4.5},{"s":"Observed Tracks","t":11,"i":35,"x":-4.8,"y":-5.6},{"s":"Observed Tracks","t":11,"i":36,"x":-5.5,"y":-6.4},{"s":"Observed Tracks","t":11,"i":37,"x":-4.1,"y":-8.2},{"s":"Observed Tracks","t":11,"i":38,"x":-4.4,"y":-9.3},{"s":"Observed Tracks","t":11,"i":39,"x":-2.6,"y":-10.3},{"s":"Observed Tracks","t":11,"i":40,"x":-2.3,"y":-10.9},{"s":"Observed Tracks","t":11,"i":41,"x":-0.3,"y":-10.5},{"s":"Observed Tracks","t":11,"i":42,"x":0.4,"y":-11.5},{"s":"Observed Tracks","t":11,"i":43,"x":2.2,"y":-10.4},{"s":"Observed Tracks","t":11,"i":44,"x":2.8,"y":-10.5},{"s":"Observed Tracks","t":11,"i":45,"x":4.4,"y":-8.8},{"s":"Observed Tracks","t":11,"i":46,"x":4.2,"y":-8.0},{"s":"Observed Tracks","t":11,"i":47,"x":5.4,"y":-6.5},{"s":"Observed Tracks","t":11,"i":48,"x":4.6,"y":-5.4},
{"s":"Observed Tracks","t":12,"i":0,"x":5.1,"y":-5.6},{"s":"Observed Tracks","t":12,"i":1,"x":4.8,"y":-4.5},{"s":"Observed Tracks","t":12,"i":2,"x":5.4,"y":-3.5},{"s":"Observed Tracks","t":12,"i":3,"x":5.0,"y":-2.5},{"s":"Observed Tracks","t":12,"i":4,"x":5.3,"y":-1.5},{"s":"Observed Tracks","t":12,"i":5,"x":4.7,"y":-0.5},{"s":"Observed Tracks","t":12,"i":6,"x":5.2,"y":0.5},{"s":"Observed Tracks","t":12,"i":7,"x":5.0,"y":1.5},{"s":"Observed Tracks","t":12,"i":8,"x":5.4,"y":2.5},{"s":"Observed Tracks","t":12,"i":9,"x":4.8,"y":3.5},{"s":"Observed Tracks","t":12,"i":10,"x":5.2,"y":4.5},{"s":"Observed Tracks","t":12,"i":11,"x":5.0,"y":5.5},{"s":"Observed Tracks","t":12,"i":12,"x":4.8,"y":6.7},{"s":"Observed Tracks","t":12,"i":13,"x":4.8,"y":7.9},{"s":"Observed Tracks","t":12,"i":14,"x":3.8,"y":9.1},{"s":"Observed Tracks","t":12,"i":15,"x":3.1,"y":10.1},{"s":"Observed Tracks","t":12,"i":16,"x":1.9,"y":10.5},{"s":"Observed Tracks","t":12,"i":17,"x":0.7,"y":11.1},{"s":"Observed Tracks","t":12,"i":18,"x":-0.6,"y":10.9},{"s":"Observed Tracks","t":12,"i":19,"x":-2.0,"y":10.7},{"s":"Observed Tracks","t":12,"i":20,"x":-2.9,"y":9.9},{"s":"Observed Tracks","t":12,"i":21,"x":-4.1,"y":9.0},{"s":"Observed Tracks","t":12,"i":22,"x":-4.6,"y":7.9},{"s":"Observed Tracks","t":12,"i":23,"x":-5.1,"y":6.6},{"s":"Observed Tracks","t":12,"i":24,"x":-4.9,"y":5.5},{"s":"Observed Tracks","t":12,"i":25,"x":-5.3,"y":4.5},{"s":"Observed Tracks","t":12,"i":26,"x":-5.0,"y":3.5},{"s":"Observed Tracks","t":12,"i":27,"x":-5.4,"y":2.5},{"s":"Observed Tracks","t":12,"i":28,"x":-4.7,"y":1.5},{"s":"Observed Tracks","t":12,"i":29,"x":-5.3,"y":0.5},{"s":"Observed Tracks","t":12,"i":30,"x":-5.1,"y":-0.5},{"s":"Observed Tracks","t":12,"i":31,"x":-4.8,"y":-1.5},{"s":"Observed Tracks","t":12,"i":32,"x":-5.2,"y":-2.5},{"s":"Observed Tracks","t":12,"i":33,"x":-4.8,"y":-3.5},{"s":"Observed Tracks","t":12,"i":34,"x":-5.4,"y":-4.5},{"s":"Observed Tracks","t":12,"i":35,"x":-5.1,"y":-5.5},{"s":"Observed Tracks","t":12,"i":36,"x":-5.0,"y":-6.6},{"s":"Observed Tracks","t":12,"i":37,"x":-4.7,"y":-7.8},{"s":"Observed Tracks","t":12,"i":38,"x":-3.9,"y":-9.1},{"s":"Observed Tracks","t":12,"i":39,"x":-3.1,"y":-9.9},{"s":"Observed Tracks","t":12,"i":40,"x":-1.9,"y":-10.8},{"s":"Observed Tracks","t":12,"i":41,"x":-0.7,"y":-10.9},{"s":"Observed Tracks","t":12,"i":42,"x":0.6,"y":-11.1},{"s":"Observed Tracks","t":12,"i":43,"x":1.9,"y":-10.5},{"s":"Observed Tracks","t":12,"i":44,"x":3.0,"y":-10.0},{"s":"Observed Tracks","t":12,"i":45,"x":4.0,"y":-9.1},{"s":"Observed Tracks","t":12,"i":46,"x":4.6,"y":-7.9},{"s":"Observed Tracks","t":12,"i":47,"x":5.0,"y":-6.6},{"s":"Observed Tracks","t":12,"i":48,"x":5.1,"y":-5.6}
]},
"encoding":{
"x":{"field":"x","type":"quantitative","scale":{"domain":[-13,13],"nice":false,"zero":false},"axis":{"values":[-10,-5,0,5,10]}},
"y":{"field":"y","type":"quantitative","scale":{"domain":[-13,13],"nice":false,"zero":false},"axis":{"values":[-10,-5,0,5,10]}},
"color":{"field":"s","type":"nominal","scale":{"domain":["True Track","Observed Tracks"],"range":["#1f77b4","#ff0000"]},"legend":{"title":null,"orient":"top-right","offset":6,"symbolType":"stroke","symbolSize":784,"symbolStrokeWidth":1.5,"labelFontSize":14,"labelColor":"black","strokeColor":"#cccccc","fillColor":"white","padding":5,"cornerRadius":3,"rowPadding":6,"labelOffset":10}},
"opacity":{"field":"s","type":"nominal","scale":{"domain":["True Track","Observed Tracks"],"range":[1,0.2]},"legend":{"title":null,"orient":"top-right","offset":6,"symbolType":"stroke","symbolSize":784,"symbolStrokeWidth":1.5,"labelFontSize":14,"labelColor":"black","strokeColor":"#cccccc","fillColor":"white","padding":5,"cornerRadius":3,"rowPadding":6,"labelOffset":10}},
"detail":{"field":"t","type":"nominal"},
"order":{"field":"i","type":"quantitative"}
},
"layer":[
{"transform":[{"filter":"datum.s === 'True Track'"}],"mark":{"type":"line","strokeWidth":1.5}},
{"transform":[{"filter":"datum.s === 'Observed Tracks'"}],"mark":{"type":"line","strokeWidth":1.5}}
]
}
